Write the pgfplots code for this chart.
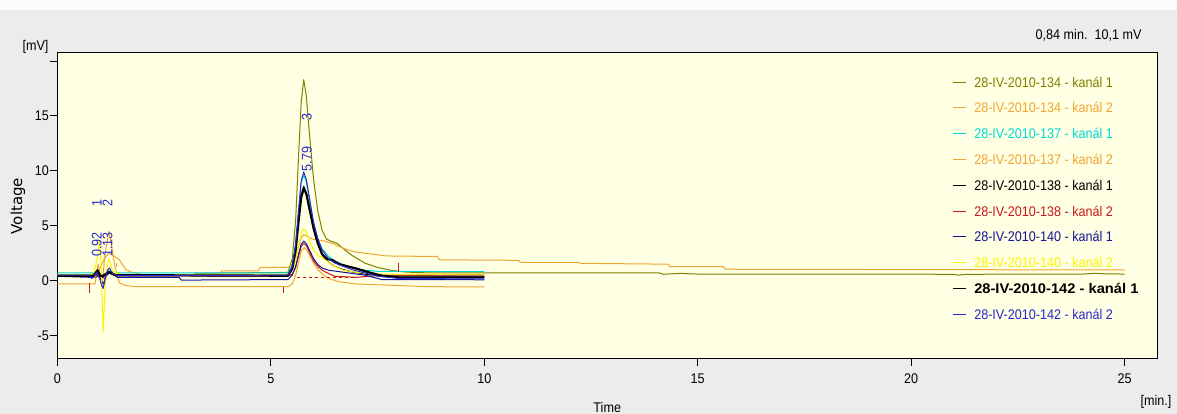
\documentclass[border=0pt]{standalone}
\usepackage{fontspec}
\setmainfont{Liberation Sans}[FakeStretch=0.9, BoldFeatures={FakeStretch=1.05}]
\newfontfamily\vfont{DejaVu Sans}
\usepackage{pgfplots}
\pgfplotsset{compat=1.18}
\definecolor{outerbg}{RGB}{236,236,236}
\definecolor{plotbg}{RGB}{255,255,228}
\definecolor{colive}{RGB}{128,128,0}
\definecolor{corange}{RGB}{240,165,50}
\definecolor{ccyan}{RGB}{0,215,215}
\definecolor{cred}{RGB}{200,25,25}
\definecolor{cnavy}{RGB}{20,20,150}
\definecolor{cyellow}{RGB}{250,245,0}
\definecolor{cblue}{RGB}{40,40,205}
\definecolor{annblue}{RGB}{40,40,200}
\begin{document}
\begin{tikzpicture}[x=1pt,y=1pt]
\fill[outerbg] (0,0) rectangle (1177,414);
\fill[white!97!gray] (0,404) rectangle (1177,414);
\useasboundingbox (0,0) rectangle (1177,414);
\begin{axis}[
  at={(57.5pt,55.5pt)}, anchor=south west,
  scale only axis, width=1099.5pt, height=306pt,
  xmin=0, xmax=25.76, ymin=-7.09, ymax=20.78,
  axis background/.style={fill=plotbg},
  axis line style={black, line width=1pt},
  xtick={0,5,10,15,20,25},
  ytick={-5,0,5,10,15,20},
  yticklabels={-5,0,5,10,15,{}},
  xticklabels={0,5,10,15,20,25},
  tick pos=left, tick align=outside, major tick length=7.5pt,
  tick style={black, line width=1pt},
  /pgf/number format/assume math mode=true,
  ticklabel style={font=\fontsize{14}{14}\selectfont},
  xticklabel style={inner sep=0pt, yshift=-8pt},
  yticklabel style={inner sep=0pt, xshift=-1pt},
  xlabel={Time}, ylabel={Voltage},
  xlabel style={at={(axis description cs:0.5,-0.1585)}, anchor=center, font=\fontsize{14}{14}\selectfont},
  ylabel style={at={(axis description cs:-0.0359,0.498)}, anchor=center, font=\vfont\fontsize{15}{15}\selectfont},
  legend style={at={(axis description cs:0.8136,0.92)}, anchor=north west,
    draw=none, fill=none, inner sep=0pt, row sep=15.8pt,
    font=\fontsize{14}{14}\selectfont,
    nodes={inner sep=0pt, text height=10pt, text depth=0pt},
    /tikz/every odd column/.append style={column sep=8pt}},
  legend cell align=left,
  legend image code/.code={\draw[#1, line width=1pt] (0pt,0pt) -- (13pt,0pt);},
  every axis plot/.append style={line width=1pt, line join=round},
]
% 1: 134 kanal 1
\addplot[colive] coordinates {(0,0.55)(0.8,0.55)(0.9,0.8)(0.95,1.0)(1.0,0.6)(1.1,0.4)(1.2,0.8)(1.3,0.6)(1.5,0.5)(3.2,0.55)(3.25,0.68)(5.40,0.75)(5.50,2.0)(5.58,5.5)(5.65,11.5)(5.71,16.3)(5.77,18.3)(5.83,16.8)(5.90,13.5)(6.00,9.2)(6.10,6.3)(6.20,4.6)(6.30,3.8)(6.40,3.6)(6.55,3.4)(6.70,2.9)(6.90,2.3)(7.20,1.6)(7.50,1.2)(7.80,0.95)(8.10,0.8)(8.5,0.72)(12,0.7)(14.1,0.7)(14.2,0.58)(14.4,0.62)(14.6,0.66)(15.0,0.6)(18,0.6)(21,0.58)(21.1,0.5)(21.3,0.58)(24,0.6)(24.3,0.66)(24.6,0.62)(25,0.6)};
\addlegendentry[text=colive]{28-IV-2010-134 - kanál 1}
% 2: 134 kanal 2
\addplot[corange] coordinates {(0,0.5)(0.9,0.5)(1.0,1.2)(1.1,2.0)(1.2,2.5)(1.3,2.3)(1.45,1.9)(1.6,1.0)(1.75,0.75)(2.0,0.55)(3.8,0.55)(3.85,0.9)(4.7,0.9)(4.75,1.2)(5.40,1.2)(5.50,1.5)(5.58,2.2)(5.65,3.2)(5.71,3.9)(5.77,4.2)(5.83,4.1)(5.90,3.9)(6.00,3.75)(6.10,3.7)(6.20,3.65)(6.35,3.5)(6.50,3.3)(6.60,3.1)(6.80,2.8)(7.0,2.6)(7.2,2.5)(7.7,2.25)(8.9,2.2)(8.95,1.9)(10.8,1.85)(10.85,1.67)(12.2,1.67)(12.25,1.58)(14.3,1.5)(14.35,1.28)(15.6,1.28)(15.65,1.04)(21,1.0)(25,0.97)};
\addlegendentry[text=corange]{28-IV-2010-134 - kanál 2}
% 3: 137 kanal 1
\addplot[ccyan] coordinates {(0,0.7)(0.85,0.7)(0.95,0.9)(1.05,0.4)(1.2,0.9)(1.4,0.7)(5.40,0.7)(5.50,1.4)(5.58,3.4)(5.65,6.5)(5.71,8.9)(5.77,9.6)(5.83,9.0)(5.90,7.4)(6.00,5.2)(6.10,3.8)(6.20,2.9)(6.35,2.2)(6.50,1.8)(6.70,1.45)(6.90,1.2)(7.20,0.95)(7.50,0.85)(10,0.82)};
\addlegendentry[text=ccyan]{28-IV-2010-137 - kanál 1}
% 4: 137 kanal 2
\addplot[corange] coordinates {(0,-0.3)(0.88,-0.3)(0.95,1.5)(1.0,0.5)(1.05,-0.5)(1.1,2.0)(1.2,4.5)(1.25,3.5)(1.35,1.2)(1.45,-0.2)(1.6,-0.45)(1.9,-0.55)(5.40,-0.55)(5.50,-0.3)(5.58,0.5)(5.65,1.7)(5.71,2.7)(5.78,3.0)(5.85,2.75)(5.92,2.2)(6.00,1.6)(6.10,1.0)(6.20,0.6)(6.35,0.2)(6.60,-0.1)(7.0,-0.3)(8.0,-0.45)(8.7,-0.55)(10,-0.57)};
\addlegendentry[text=corange]{28-IV-2010-137 - kanál 2}
% 5: 138 kanal 1
\addplot[black] coordinates {(0,0.5)(0.85,0.5)(0.94,1.0)(1.0,0.6)(1.05,0.3)(1.15,0.6)(1.25,0.7)(1.4,0.5)(5.40,0.5)(5.50,1.15)(5.58,2.9)(5.65,5.6)(5.71,7.8)(5.77,8.6)(5.83,8.0)(5.90,6.6)(6.00,4.6)(6.10,3.3)(6.20,2.4)(6.35,1.7)(6.50,1.3)(6.70,1.0)(6.90,0.8)(7.20,0.6)(7.5,0.45)(10,0.4)};
\addlegendentry[text=black]{28-IV-2010-138 - kanál 1}
% 6: 138 kanal 2
\addplot[cred] coordinates {(0,0.45)(0.8,0.45)(0.9,0.3)(1.0,0.6)(1.1,0.2)(1.2,0.7)(1.35,0.45)(5.40,0.4)(5.50,0.6)(5.58,1.2)(5.65,2.3)(5.71,3.1)(5.77,3.4)(5.83,3.2)(5.90,2.6)(6.00,1.8)(6.10,1.3)(6.20,0.95)(6.35,0.65)(6.50,0.4)(7.0,0.3)(7.6,0.5)(10,0.52)};
\addlegendentry[text=cred]{28-IV-2010-138 - kanál 2}
% 7: 140 kanal 1
\addplot[cnavy] coordinates {(0,0.4)(0.8,0.3)(0.9,0.6)(1.0,0.2)(1.08,-0.3)(1.15,0.5)(1.25,0.8)(1.4,0.3)(2.85,0.3)(2.9,0.05)(5.40,0.1)(5.50,0.5)(5.58,1.3)(5.65,2.45)(5.71,3.34)(5.77,3.6)(5.83,3.38)(5.90,2.8)(6.00,2.0)(6.10,1.46)(6.20,1.15)(6.35,0.95)(6.60,0.82)(7.2,0.5)(7.6,0.1)(10,0.08)};
\addlegendentry[text=cnavy]{28-IV-2010-140 - kanál 1}
% 8: 140 kanal 2
\addplot[cyellow] coordinates {(0,0.55)(0.85,0.55)(0.95,2.5)(0.99,3.7)(1.03,0.5)(1.07,-4.7)(1.11,-1.0)(1.15,1.0)(1.2,2.0)(1.3,0.8)(1.5,0.55)(5.40,0.55)(5.50,0.9)(5.58,1.8)(5.65,3.25)(5.71,4.35)(5.77,4.7)(5.83,4.4)(5.90,3.7)(6.00,2.8)(6.10,2.3)(6.20,2.1)(6.35,1.7)(6.50,1.3)(6.70,0.95)(7.0,0.75)(7.5,0.6)(10,0.6)};
\addlegendentry[text=cyellow]{28-IV-2010-140 - kanál 2}
% 9: 142 kanal 1
\addplot[black, line width=2.2pt] coordinates {(0,0.45)(0.85,0.45)(0.93,0.9)(1.0,0.4)(1.1,0.5)(1.2,0.8)(1.35,0.5)(5.40,0.45)(5.50,1.1)(5.58,2.8)(5.65,5.5)(5.71,7.6)(5.77,8.4)(5.83,7.9)(5.90,6.6)(6.00,4.8)(6.10,3.4)(6.20,2.4)(6.30,2.0)(6.45,1.85)(6.60,1.5)(6.80,1.3)(7.0,1.1)(7.3,0.75)(7.6,0.45)(8,0.3)(10,0.3)};
\addlegendentry[text=black]{\textbf{28-IV-2010-142 - kanál 1}}
% 10: 142 kanal 2
\addplot[cblue] coordinates {(0,0.5)(0.75,0.5)(0.8,0.2)(0.85,0.3)(0.92,0.8)(0.98,0.3)(1.03,-0.4)(1.07,-0.7)(1.12,0.2)(1.18,1.0)(1.22,1.15)(1.28,0.7)(1.4,0.45)(5.40,0.5)(5.50,1.25)(5.58,3.3)(5.65,6.5)(5.71,9.1)(5.77,9.9)(5.83,9.2)(5.90,7.6)(6.00,5.3)(6.10,3.8)(6.20,2.8)(6.35,2.0)(6.50,1.6)(6.70,1.3)(6.90,1.0)(7.2,0.7)(7.5,0.4)(8,0.2)(10,0.15)};
\addlegendentry[text=cblue]{28-IV-2010-142 - kanál 2}
% integration marks
\addplot[cred, forget plot] coordinates {(0.74,-1.1)(0.74,-0.2)};
\addplot[cred, forget plot] coordinates {(5.3,-1.1)(5.3,-0.55)};
\addplot[cred, forget plot] coordinates {(7.98,0.8)(7.98,1.6)};
\addplot[corange, forget plot] coordinates {(1.38,1.2)(1.38,1.6)};
\addplot[cred, dashed, forget plot] coordinates {(5.6,0.3)(7.0,0.3)};
% peak annotations
\node[rotate=90, text=annblue, font=\fontsize{14}{14}\selectfont] at (axis cs:0.92,7.1) {1};
\node[rotate=90, text=annblue, font=\fontsize{14}{14}\selectfont] at (axis cs:1.17,7.1) {2};
\node[rotate=90, text=annblue, font=\fontsize{14}{14}\selectfont] at (axis cs:0.92,3.3) {0.92};
\node[rotate=90, text=annblue, font=\fontsize{14}{14}\selectfont] at (axis cs:1.17,3.3) {1.13};
\node[rotate=90, text=annblue, font=\fontsize{14}{14}\selectfont] at (axis cs:5.84,14.9) {3};
\node[rotate=90, text=annblue, font=\fontsize{14}{14}\selectfont] at (axis cs:5.84,11.07) {5.79};
\end{axis}
\node[font=\fontsize{14}{14}\selectfont] at (35.5,367) {[mV]};
\node[font=\fontsize{14}{14}\selectfont] at (1156,12) {[min.]};
\node[anchor=east, font=\fontsize{14}{14}\selectfont] at (1145,379) {0,84 min.\ \ 10,1 mV};
\end{tikzpicture}
\end{document}
